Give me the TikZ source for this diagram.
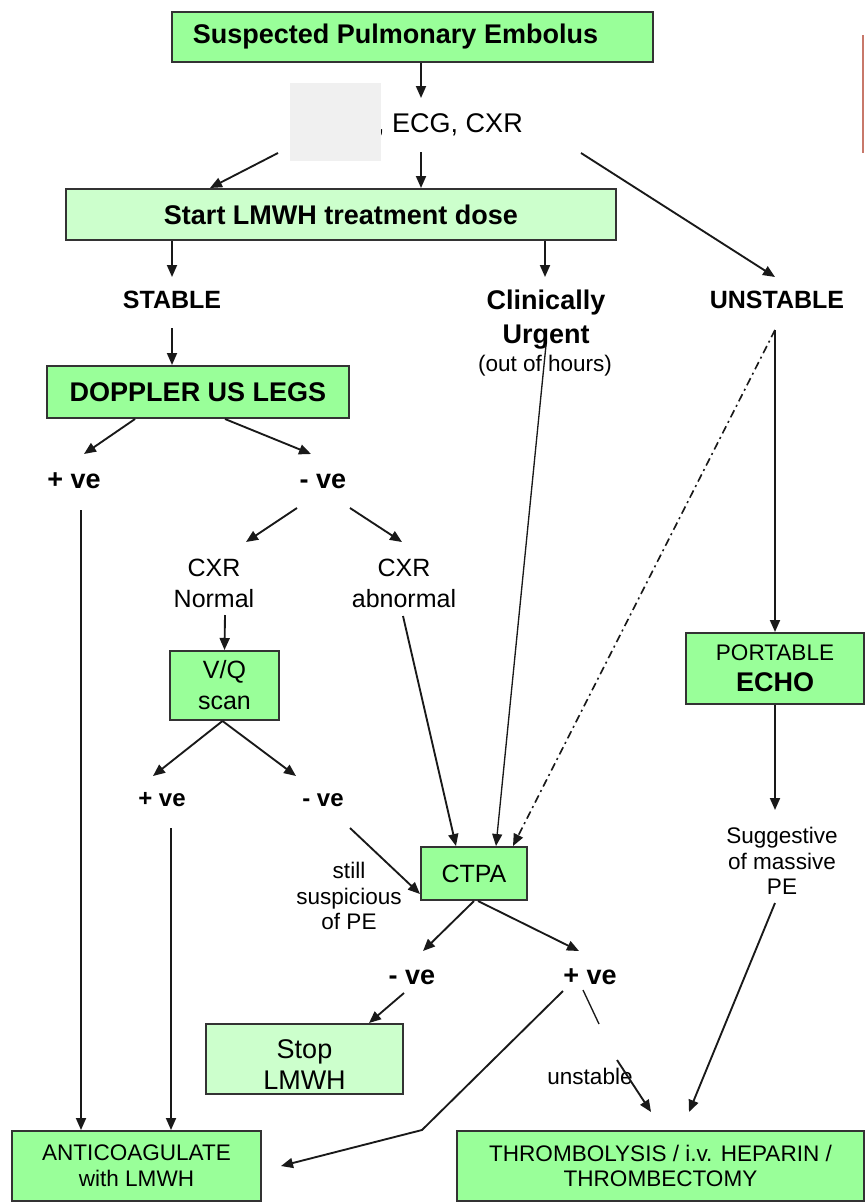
\documentclass[tikz,border=0pt]{standalone}
\usepackage{fontspec}
\setmainfont{Liberation Sans}
\usetikzlibrary{arrows.meta,calc}
\definecolor{boxgreen}{HTML}{99FF99}
\definecolor{palegreen}{HTML}{CCFFCC}
\definecolor{greyblock}{HTML}{F0F0F0}
\definecolor{redline}{HTML}{C8786A}
\definecolor{frame}{HTML}{333333}
\newcommand\szA{\fontsize{20.25}{25.5}\selectfont}
\newcommand\szB{\fontsize{18.75}{23.25}\selectfont}
\newcommand\szD{\fontsize{18}{22}\selectfont}
\newcommand\szC{\fontsize{16.9}{19.2}\selectfont}
\newcommand\szE{\fontsize{20.25}{23.25}\selectfont}
\begin{document}
\begin{tikzpicture}[x=0.75pt,y=-0.75pt,
  box/.style={draw=frame,line width=1.5pt,fill=boxgreen,align=center,inner sep=0pt},
  pbox/.style={box,fill=palegreen},
  lbl/.style={align=center,inner sep=0pt},
  conn/.style={line width=1.4pt,draw=black!90},
  arr/.style={conn,-{Triangle[length=9pt,width=7.5pt]}},
  thinarr/.style={arr,line width=1pt},
  dashdot/.style={arr,line width=1.2pt,dash pattern=on 6pt off 3pt on 1.5pt off 3pt}]
\useasboundingbox (0,0) rectangle (866,1203);
% boxes
\node[box,minimum width=360.75pt,minimum height=37.5pt,font=\szA\bfseries] (susp) at (412.5,37) {Suspected Pulmonary Embolus\hspace{25.5pt}};
\node[lbl,font=\szA] (ecg) at (450,125) {, ECG, CXR};
\node[fill=greyblock,minimum width=68.25pt,minimum height=58.5pt,inner sep=0pt] (grey) at (335.5,122) {};
\node[pbox,minimum width=412.5pt,minimum height=38.25pt,font=\szA\bfseries] (start) at (341,214.5) {Start LMWH treatment dose};
\node[lbl,font=\szB\bfseries] (stable) at (172,300) {STABLE};
\node[lbl,font=\szA\bfseries] (urg) at (546,320) {Clinically\\Urgent};
\node[lbl,font=\szC] (ooh) at (545,366) {(out of hours)};
\node[lbl,font=\szB\bfseries] (unstable) at (777,300) {UNSTABLE};
\node[box,minimum width=226.5pt,minimum height=39pt,font=\szA\bfseries] (dop) at (198,392) {DOPPLER US LEGS};
\node[lbl,font=\szA\bfseries] (plus1) at (74,481) {+ ve};
\node[lbl,font=\szA\bfseries] (minus1) at (323,481) {- ve};
\node[lbl,font=\szB] (cxrn) at (214,583) {CXR\\Normal};
\node[lbl,font=\szB] (cxra) at (404,583) {CXR\\abnormal};
\node[box,minimum width=81.75pt,minimum height=51.75pt,font=\szB] (vq) at (224.5,685.5) {V/Q\\scan};
\node[box,minimum width=133.5pt,minimum height=53.25pt,font=\szE] (echo) at (775,668.5) {{\szC PORTABLE}\\{\bfseries ECHO}};
\node[lbl,font=\szD\bfseries] (plus2) at (162,800) {+ ve};
\node[lbl,font=\szD\bfseries] (minus2) at (323,800) {- ve};
\node[lbl,font=\szC] (still) at (349,896) {still\\suspicious\\of PE};
\node[box,minimum width=79.5pt,minimum height=39.75pt,font=\szB] (ctpa) at (474,873.5) {CTPA};
\node[lbl,font=\szC,text depth=0pt] (sugg) at (782,861) {Suggestive\\of massive\\PE};
\node[lbl,font=\szA\bfseries] (minus3) at (412,977) {- ve};
\node[lbl,font=\szA\bfseries] (plus3) at (590,977) {+ ve};
\node[pbox,minimum width=147.75pt,minimum height=52.5pt,font=\szE] (stop) at (304.5,1059) {\rule{0pt}{22pt}Stop\\LMWH};
\node[lbl,font=\szC] (unst2) at (590,1076) {unstable};
\node[box,minimum width=186.75pt,minimum height=52.5pt,font=\szC] (anti) at (136.5,1166) {ANTICOAGULATE\\with LMWH};
\node[box,minimum width=305.25pt,minimum height=52.5pt,font=\szC] (thr) at (660.5,1166) {THROMBOLYSIS / i.v. HEPARIN /\\THROMBECTOMY};
\draw[redline,line width=1.5pt] (863,35) -- (863,153);
% connectors
\draw[arr] ($(susp.south)+(8.5,0)$) -- ($(ecg)+(-29,-27)$);
\draw[arr] ($(ecg)+(-29,27)$) -- ($(start.north)+(80,0)$);
\draw[arr] ($(ecg)+(-172,28)$) -- ($(start.north)+(-131,0)$);
\draw[arr] ($(ecg)+(131,28)$) -- ($(unstable)+(-2,-23)$);
\draw[arr] ($(start.south)+(-169,0)$) -- ($(stable)+(0,-23)$);
\draw[arr] ($(start.south)+(204,0)$) -- ($(urg)+(-1,-43)$);
\draw[arr] ($(stable)+(0,28)$) -- ($(dop.north)+(-26,0)$);
\draw[arr] ($(dop.south)+(-63,0)$) -- ($(plus1)+(10,-27)$);
\draw[arr] ($(dop.south)+(27,0)$) -- ($(minus1)+(-12,-27)$);
\draw[arr] ($(plus1)+(7,29)$) -- ($(anti.north)+(-55.5,0)$);
\draw[arr] ($(minus1)+(-26,27)$) -- ($(cxrn)+(32,-41)$);
\draw[arr] ($(minus1)+(27,27)$) -- ($(cxra)+(-2,-41)$);
\draw[arr] ($(cxrn)+(11,32)$) -- (vq.north);
\draw[arr] ($(vq.south)+(-2,0)$) -- ($(plus2)+(-9,-24)$);
\draw[arr] ($(vq.south)+(-2,0)$) -- ($(minus2)+(-27,-24)$);
\draw[arr] ($(plus2)+(9,28)$) -- ($(anti.north)+(34.5,0)$);
\draw[arr] ($(minus2)+(27,28)$) -- ($(ctpa.south west)+(0,-7)$);
\draw[arr] ($(cxra)+(-1,33)$) -- ($(ctpa.north west)+(36,0)$);
\draw[thinarr] ($(urg)+(0,25)$) -- ($(ctpa.north west)+(76,0)$);
\draw[arr] ($(unstable)+(-2,30)$) -- (echo.north);
\draw[dashdot] ($(unstable)+(-2,30)$) -- ($(ctpa.north east)+(-15,0)$);
\draw[arr] (ctpa.south) -- ($(minus3)+(11,-26)$);
\draw[arr] ($(ctpa.south)+(4,0)$) -- ($(plus3)+(-11,-26)$);
\draw[arr] ($(minus3)+(-8,16)$) -- ($(stop.north)+(64.5,0)$);
\draw[arr] ($(plus3)+(-27,14)$) -- ($(anti.north east)+(160,0)$) -- ($(anti.east)+(19,0)$);
\draw[conn,line width=1pt] ($(plus3)+(-7,13)$) -- ($(plus3)+(9,47)$);
\draw[arr] ($(plus3)+(27,83)$) -- ($(thr.north west)+(195,-18)$);
\draw[arr] (echo.south) -- ($(sugg)+(-7,-51)$);
\draw[arr] ($(sugg)+(-7,42)$) -- ($(thr.north west)+(233,-18)$);
\end{tikzpicture}
\end{document}
